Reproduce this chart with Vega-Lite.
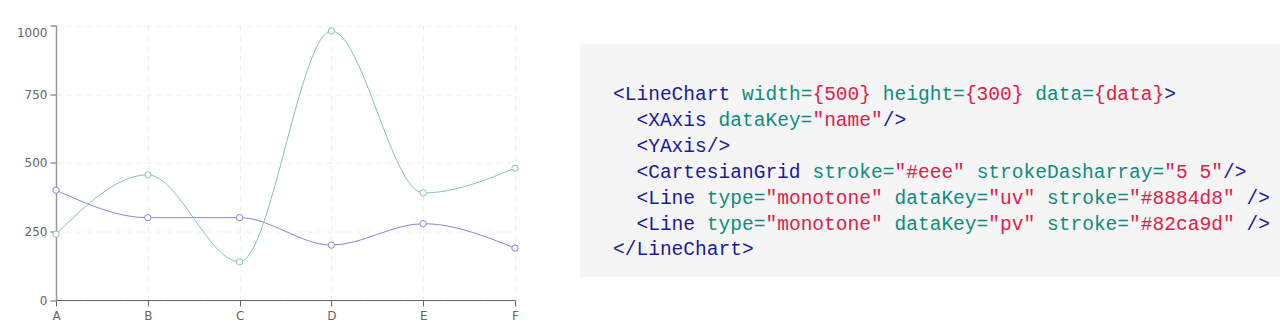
{
  "$schema": "https://vega.github.io/schema/vega-lite/v6.json",
  "autosize": {"type": "pad"},
  "padding": {"left": 16, "top": 24.5, "right": 0, "bottom": 0},
  "background": "white",
  "config": {"view": {"stroke": null}, "concat": {"spacing": 59}},
  "datasets": {
    "chart": [
      {"name": "A", "uv": 400, "pv": 240},
      {"name": "B", "uv": 300, "pv": 456},
      {"name": "C", "uv": 300, "pv": 139},
      {"name": "D", "uv": 200, "pv": 980},
      {"name": "E", "uv": 278, "pv": 390},
      {"name": "F", "uv": 189, "pv": 480}
    ],
    "code": [
      {"line": 1, "col": 0, "text": "<LineChart", "kind": "tag"},
      {"line": 1, "col": 11, "text": "width=", "kind": "attr"},
      {"line": 1, "col": 17, "text": "{500}", "kind": "val"},
      {"line": 1, "col": 23, "text": "height=", "kind": "attr"},
      {"line": 1, "col": 30, "text": "{300}", "kind": "val"},
      {"line": 1, "col": 36, "text": "data=", "kind": "attr"},
      {"line": 1, "col": 41, "text": "{data}", "kind": "val"},
      {"line": 1, "col": 47, "text": ">", "kind": "tag"},
      {"line": 2, "col": 2, "text": "<XAxis", "kind": "tag"},
      {"line": 2, "col": 9, "text": "dataKey=", "kind": "attr"},
      {"line": 2, "col": 17, "text": "\"name\"", "kind": "val"},
      {"line": 2, "col": 23, "text": "/>", "kind": "tag"},
      {"line": 3, "col": 2, "text": "<YAxis/>", "kind": "tag"},
      {"line": 4, "col": 2, "text": "<CartesianGrid", "kind": "tag"},
      {"line": 4, "col": 17, "text": "stroke=", "kind": "attr"},
      {"line": 4, "col": 24, "text": "\"#eee\"", "kind": "val"},
      {"line": 4, "col": 31, "text": "strokeDasharray=", "kind": "attr"},
      {"line": 4, "col": 47, "text": "\"5 5\"", "kind": "val"},
      {"line": 4, "col": 52, "text": "/>", "kind": "tag"},
      {"line": 5, "col": 2, "text": "<Line", "kind": "tag"},
      {"line": 5, "col": 8, "text": "type=", "kind": "attr"},
      {"line": 5, "col": 13, "text": "\"monotone\"", "kind": "val"},
      {"line": 5, "col": 24, "text": "dataKey=", "kind": "attr"},
      {"line": 5, "col": 32, "text": "\"uv\"", "kind": "val"},
      {"line": 5, "col": 37, "text": "stroke=", "kind": "attr"},
      {"line": 5, "col": 44, "text": "\"#8884d8\"", "kind": "val"},
      {"line": 5, "col": 54, "text": "/>", "kind": "tag"},
      {"line": 6, "col": 2, "text": "<Line", "kind": "tag"},
      {"line": 6, "col": 8, "text": "type=", "kind": "attr"},
      {"line": 6, "col": 13, "text": "\"monotone\"", "kind": "val"},
      {"line": 6, "col": 24, "text": "dataKey=", "kind": "attr"},
      {"line": 6, "col": 32, "text": "\"pv\"", "kind": "val"},
      {"line": 6, "col": 37, "text": "stroke=", "kind": "attr"},
      {"line": 6, "col": 44, "text": "\"#82ca9d\"", "kind": "val"},
      {"line": 6, "col": 54, "text": "/>", "kind": "tag"},
      {"line": 7, "col": 0, "text": "</LineChart>", "kind": "tag"}
    ]
  },
  "hconcat": [
    {
      "width": 459,
      "height": 274.5,
      "data": {"name": "chart"},
      "encoding": {
        "x": {
          "field": "name", "type": "nominal",
          "scale": {"type": "point", "padding": 0},
          "axis": {
            "title": null, "labelAngle": 0, "grid": true, "gridColor": "#eeeeee", "gridDash": [5, 5],
            "domainColor": "#666666", "tickColor": "#666666", "tickSize": 6,
            "labelColor": "#666666", "labelFont": "DejaVu Sans", "labelFontSize": 12, "labelPadding": 4
          }
        }
      },
      "layer": [
        {
          "mark": {"type": "line", "interpolate": "monotone", "color": "#8884d8", "strokeWidth": 1},
          "encoding": {
            "y": {
              "field": "uv", "type": "quantitative",
              "scale": {"domain": [0, 1000], "nice": false},
              "axis": {
                "title": null, "values": [0, 250, 500, 750, 1000], "format": "d", "grid": true, "gridColor": "#eeeeee", "gridDash": [5, 5],
                "domainColor": "#999999", "domainWidth": 1.5, "tickColor": "#666666", "tickSize": 6,
                "labelColor": "#666666", "labelFont": "DejaVu Sans", "labelFontSize": 12, "labelPadding": 3,
                "labelOffset": {"condition": {"test": "datum.value == 1000", "value": 7}, "value": 0}
              }
            }
          }
        },
        {
          "mark": {"type": "point", "filled": true, "fill": "white", "stroke": "#8884d8", "strokeWidth": 1, "size": 40, "opacity": 1},
          "encoding": {"y": {"field": "uv", "type": "quantitative"}}
        },
        {
          "mark": {"type": "line", "interpolate": "monotone", "color": "#82ca9d", "strokeWidth": 1},
          "encoding": {"y": {"field": "pv", "type": "quantitative"}}
        },
        {
          "mark": {"type": "point", "filled": true, "fill": "white", "stroke": "#82ca9d", "strokeWidth": 1, "size": 40, "opacity": 1},
          "encoding": {"y": {"field": "pv", "type": "quantitative"}}
        }
      ]
    },
    {
      "width": 700,
      "height": 274.5,
      "data": {"name": "code"},
      "encoding": {
        "x": {
          "field": "col", "type": "quantitative",
          "scale": {"domain": [-2.813, 56.863], "nice": false, "zero": false},
          "axis": null
        },
        "y": {
          "field": "line", "type": "quantitative",
          "scale": {"domain": [-1.6713, 8.956], "reverse": true, "nice": false, "zero": false},
          "axis": null
        }
      },
      "layer": [
        {
          "mark": {"type": "rect", "color": "#f5f5f5"},
          "encoding": {
            "x": {"datum": -2.813, "type": "quantitative"},
            "x2": {"datum": 56.863},
            "y": {"datum": -0.9357, "type": "quantitative"},
            "y2": {"datum": 8.046}
          }
        },
        {
          "mark": {"type": "text", "align": "left", "baseline": "middle", "font": "Liberation Mono", "fontSize": 19.55},
          "encoding": {
            "text": {"field": "text"},
            "color": {
              "field": "kind", "type": "nominal",
              "scale": {"domain": ["tag", "attr", "val"], "range": ["#1a1a9c", "#0f8c7e", "#e0204a"]},
              "legend": null
            }
          }
        }
      ]
    }
  ]
}
